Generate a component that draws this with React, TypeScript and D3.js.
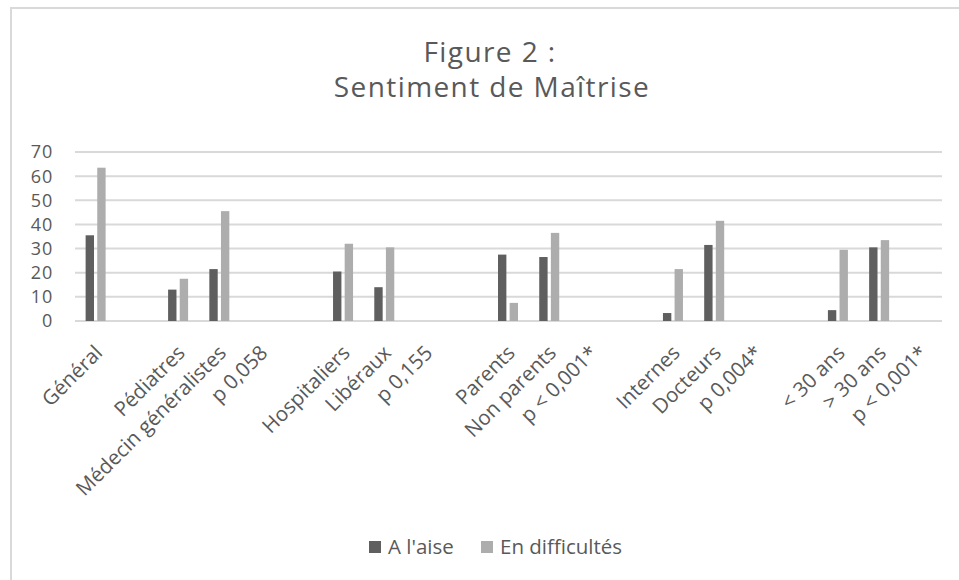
import React from "react";
import * as d3 from "d3";

// categories along the x axis (blank slots are the gaps between groups)
const categories = [
  "Général", "", "Pédiatres", "Médecin généralistes", "p 0,058", "",
  "Hospitaliers", "Libéraux", "p 0,155", "",
  "Parents", "Non parents", "p < 0,001*", "",
  "Internes", "Docteurs", "p 0,004*", "",
  "< 30 ans", "> 30 ans", "p < 0,001*",
];
const aLaise = [35.5, null, 13, 21.5, null, null, 20.5, 14, null, null, 27.5, 26.5, null, null, 3.3, 31.5, null, null, 4.5, 30.5, null];
const enDifficultes = [63.5, null, 17.5, 45.5, null, null, 32, 30.5, null, null, 7.5, 36.5, null, null, 21.5, 41.5, null, null, 29.5, 33.5, null];
const seriesNames = ["A l'aise", "En difficultés"];
const yTicks = [0, 10, 20, 30, 40, 50, 60, 70];

const W = 959;
const H = 580;
const colors = ["#5f5f5f", "#adadad"];
const textColor = "#595959";
const font = "'Open Sans', sans-serif";

export default function App() {
  const x = d3
    .scaleBand<number>()
    .domain(categories.map((_, i) => i))
    .range([75, 941])
    .padding(0);
  const y = d3.scaleLinear().domain([0, 70]).range([321, 152]);
  const groupW = 20;
  const x1 = d3
    .scaleBand<number>()
    .domain([0, 1])
    .range([0, groupW])
    .paddingInner(0.28);
  const series = [aLaise, enDifficultes];

  return (
    <svg
      width={W}
      height={H}
      style={{ position: "absolute", left: 0, top: 0, background: "#fff" }}
      fontFamily={font}
    >
      {/* chart frame */}
      <path d={`M11,${H + 5} V8 H${W + 5}`} fill="none" stroke="#d9d9d9" strokeWidth={2} />

      {/* title */}
      <text x={490} y={62} textAnchor="middle" fontSize={28} letterSpacing={1.4} fill={textColor}>
        Figure 2 :
      </text>
      <text x={492} y={97} textAnchor="middle" fontSize={28} letterSpacing={1.4} fill={textColor}>
        Sentiment de Maîtrise
      </text>

      {/* gridlines + y labels */}
      {yTicks.map((t) => (
        <g key={t}>
          <line x1={75} x2={942} y1={y(t)} y2={y(t)} stroke="#d9d9d9" strokeWidth={2} />
          <text x={53} y={y(t)} dy="0.36em" textAnchor="end" fontSize={18} letterSpacing={0.8} fill={textColor}>
            {t}
          </text>
        </g>
      ))}

      {/* bars */}
      {series.map((vals, s) =>
        vals.map((v, i) =>
          v == null ? null : (
            <rect
              key={`${s}-${i}`}
              x={x(i)! + x.bandwidth() / 2 - groupW / 2 + x1(s)!}
              y={y(v)}
              width={x1.bandwidth()}
              height={y(0) - y(v)}
              fill={colors[s]}
            />
          )
        )
      )}

      {/* x labels */}
      {categories.map((c, i) => (
        <text
          key={i}
          transform={`translate(${x(i)! + x.bandwidth() / 2 - 2},${344}) rotate(-45)`}
          textAnchor="end"
          dy="0.7em"
          fontSize={20.5}
          fill={textColor}
        >
          {c}
        </text>
      ))}

      {/* legend */}
      {seriesNames.map((n, s) => (
        <g key={n} transform={`translate(${s === 0 ? 369 : 481},541)`}>
          <rect width={12} height={12} fill={colors[s]} />
          <text x={19} y={13} fontSize={20.5} fill={textColor}>
            {n}
          </text>
        </g>
      ))}
    </svg>
  );
}
